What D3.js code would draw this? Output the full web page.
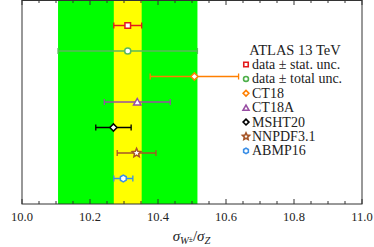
<!DOCTYPE html>
<html>
<head>
<meta charset="utf-8">
<script src="https://cdn.jsdelivr.net/npm/d3@7"></script>
<style>
  body { margin: 0; background: #fff; }
  text { font-family: "Liberation Serif", "DejaVu Serif", serif; }
</style>
</head>
<body>
<div id="chart"></div>
<script>
// data: sigma_W / sigma_Z ratio, one row per entry (top to bottom)
const labels = ["data \u00b1 stat. unc.", "data \u00b1 total unc.", "CT18", "CT18A", "MSHT20", "NNPDF3.1", "ABMP16"];
const values = [10.311, 10.311, 10.507, 10.339, 10.269, 10.337, 10.298];
const errors = [0.041, 0.205, 0.13, 0.097, 0.052, 0.057, 0.028];
const colors = ["#e41a1c", "#5cb85c", "#ff7f00", "#984ea3", "#000000", "#a65628", "#3a8ee6"];
const shapes = ["square", "circle", "diamond", "triangle", "diamond", "star", "hexagon"];
const xTicks = [10.0, 10.2, 10.4, 10.6, 10.8, 11.0];

let w = 374, h = 247;
let pLeft = 22, pRight = 362, pTop = 0, pBottom = 204;

let svg = d3.select("#chart").append("svg")
  .attr("width", w)
  .attr("height", h);

let x = d3.scaleLinear().domain([10.0, 11.0]).range([pLeft, pRight]);
let y = d3.scaleLinear().domain([0, 8]).range([pTop, pBottom]);

// uncertainty bands from the data point
svg.append("rect")
  .attr("x", x(values[1] - errors[1]))
  .attr("y", pTop)
  .attr("width", x(values[1] + errors[1]) - x(values[1] - errors[1]))
  .attr("height", pBottom - pTop)
  .attr("fill", "#00ff00");
svg.append("rect")
  .attr("x", x(values[0] - errors[0]))
  .attr("y", pTop)
  .attr("width", x(values[0] + errors[0]) - x(values[0] - errors[0]))
  .attr("height", pBottom - pTop)
  .attr("fill", "#ffff00");

// regular polygon path, r = outer radius
function poly(n, r, rot, inner) {
  let p = [];
  let m = inner ? 2 * n : n;
  for (let k = 0; k < m; k++) {
    let a = rot + Math.PI * 2 * k / m;
    let rr = (inner && k % 2 == 1) ? inner : r;
    p.push([(rr * Math.cos(a)).toFixed(2), (rr * Math.sin(a)).toFixed(2)]);
  }
  return "M" + p.join("L") + "Z";
}

function symbolPath(s) {
  if (s == "square") return "M-2.8,-2.8H2.8V2.8H-2.8Z";
  if (s == "circle") return d3.symbol(d3.symbolCircle, 30)();
  if (s == "diamond") return poly(4, 3.6, 0);
  if (s == "triangle") return poly(3, 4.3, -Math.PI / 2);
  if (s == "star") return poly(5, 4.6, -Math.PI / 2, 2.2);
  return poly(6, 3.4, Math.PI / 6);
}

let rows = svg.selectAll("g.row")
  .data(values)
  .enter()
  .append("g")
  .attr("class", "row");

rows.append("line")
  .attr("x1", (d, i) => x(d - errors[i]))
  .attr("x2", (d, i) => x(d + errors[i]))
  .attr("y1", (d, i) => y(i + 1))
  .attr("y2", (d, i) => y(i + 1))
  .attr("stroke", (d, i) => colors[i])
  .attr("stroke-width", 1.5);

[-1, 1].forEach(function(sgn) {
  rows.append("line")
    .attr("x1", (d, i) => x(d + sgn * errors[i]))
    .attr("x2", (d, i) => x(d + sgn * errors[i]))
    .attr("y1", (d, i) => y(i + 1) - 3)
    .attr("y2", (d, i) => y(i + 1) + 3)
    .attr("stroke", (d, i) => colors[i])
    .attr("stroke-width", 1.3);
});

rows.append("path")
  .attr("d", (d, i) => symbolPath(shapes[i]))
  .attr("transform", (d, i) => "translate(" + x(d) + "," + (y(i + 1) + (shapes[i] == "triangle" ? 0.8 : 0)) + ")")
  .attr("fill", "#fff")
  .attr("stroke", (d, i) => colors[i])
  .attr("stroke-width", 1.5);

// frame
svg.append("rect")
  .attr("x", pLeft).attr("y", pTop + 0.5)
  .attr("width", pRight - pLeft).attr("height", pBottom - pTop - 0.5)
  .attr("fill", "none")
  .attr("stroke", "#333")
  .attr("stroke-width", 1);

// ticks, inward on top and bottom
let minor = d3.range(0, 21).map(k => 10 + k * 0.05);
let tickG = svg.append("g");
minor.forEach(function(v) {
  let major = Math.abs(Math.round(v * 5) - v * 5) < 1e-6;
  let len = major ? 5 : 3;
  tickG.append("line").attr("x1", x(v)).attr("x2", x(v))
    .attr("y1", pBottom).attr("y2", pBottom - len).attr("stroke", "#333");
  tickG.append("line").attr("x1", x(v)).attr("x2", x(v))
    .attr("y1", pTop).attr("y2", pTop + len).attr("stroke", "#333");
});

svg.selectAll("text.tick")
  .data(xTicks)
  .enter()
  .append("text")
  .attr("class", "tick")
  .attr("x", d => x(d))
  .attr("y", 221)
  .attr("text-anchor", "middle")
  .attr("font-size", "12.5px")
  .attr("fill", "#222")
  .text(d => d.toFixed(1));

// axis title
let xt = svg.append("text")
  .attr("x", 191.5)
  .attr("y", 241)
  .attr("text-anchor", "middle")
  .attr("font-size", "15px")
  .attr("font-style", "italic")
  .attr("fill", "#222");
xt.append("tspan").text("\u03c3");
xt.append("tspan").attr("font-size", "10.5px").attr("dy", 3).text("W");
xt.append("tspan").attr("font-size", "7.5px").attr("dy", -2).attr("font-style", "normal").text("\u00b1");
xt.append("tspan").attr("dy", -1).attr("font-style", "normal").text("/");
xt.append("tspan").text("\u03c3");
xt.append("tspan").attr("font-size", "10.5px").attr("dy", 3).text("Z");

// legend
let legend = svg.append("g");
legend.append("text")
  .attr("x", 295)
  .attr("y", 55)
  .attr("text-anchor", "middle")
  .attr("font-size", "14.5px")
  .attr("fill", "#222")
  .text("ATLAS 13 TeV");

let items = legend.selectAll("g.item")
  .data(labels)
  .enter()
  .append("g")
  .attr("class", "item")
  .attr("transform", (d, i) => "translate(246," + (64.5 + i * 14.4) + ")");

items.append("path")
  .attr("d", (d, i) => symbolPath(shapes[i]))
  .attr("transform", (d, i) => "translate(0," + (shapes[i] == "triangle" ? 0.8 : 0) + ") scale(0.8)")
  .attr("fill", "#fff")
  .attr("stroke", (d, i) => colors[i] == "#5cb85c" ? "#4daf4a" : colors[i])
  .attr("stroke-width", 2);

items.append("text")
  .attr("x", 6)
  .attr("y", 4.5)
  .attr("font-size", "14px")
  .attr("fill", "#222")
  .text(d => d);
</script>
</body>
</html>
